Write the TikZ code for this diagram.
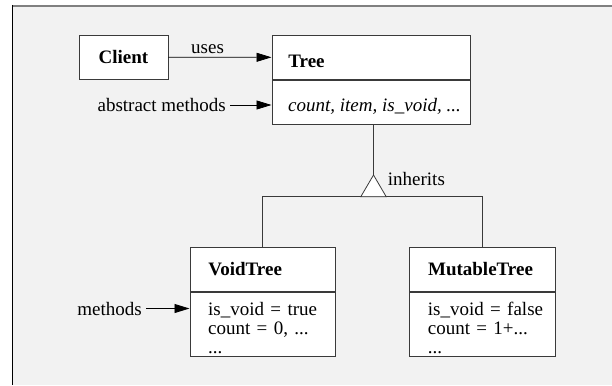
\documentclass[tikz,border=0pt]{standalone}
\usepackage{fontspec}
\setmainfont{Liberation Serif}
\usetikzlibrary{arrows.meta}
\usetikzlibrary{positioning}

\definecolor{panel}{HTML}{F2F2F2}
\definecolor{boxline}{HTML}{3A3A3A}
\newcommand{\umlsize}{\fontsize{19}{19}\selectfont}

\begin{document}
\begin{tikzpicture}[x=1pt,y=-1pt,
        font=\umlsize,
        box/.style={draw=boxline,line width=0.8pt,fill=white,inner sep=0pt,anchor=north west},
        head/.style n args={2}{box,minimum height=44pt,text width=#1,inner xsep=#2,
            align=left,font=\umlsize\bfseries},
        body/.style n args={2}{box,minimum width=#1,minimum height=#2},
        ops/.style={inner sep=0pt,anchor=base west,text width=125pt,align=left},
        link/.style={draw=black,line width=0.8pt,arrows = -{Triangle[length=15pt,width=9pt]}}]

            % \draw [help lines] (0,0) grid (612,385);
            \useasboundingbox (0,0) rectangle (612,385);
            \fill[white] (0,0) rectangle (612,385);
            \fill[panel] (12.5,5.7) rectangle (612,385);
            \draw[gray,line width=2pt] (12,5.7) -- (612,5.7);
            \draw[black,line width=1pt] (12.5,5) -- (12.5,385);

            \path   (123.5,57.2) node (client) [box,anchor=center,minimum width=89pt,
                        minimum height=44.3pt,font=\umlsize\bfseries] {Client}
                    (271.5,35) node (treehead) [head={165pt}{16.5pt},text height=21pt] {Tree}
                    (treehead.south west) node (treebody) [body={198.5pt}{44pt}] {}
                    (189.5,246.7) node (voidhead) [head={108.5pt}{18.5pt}] {VoidTree}
                    (voidhead.south west) node (voidbody) [body={145.5pt}{64.3pt}] {}
                    (409,246.7) node (muthead) [head={108.6pt}{18.7pt}] {MutableTree}
                    (muthead.south west) node (mutbody) [body={146pt}{64.3pt}] {};

            % texts of the method parts
            \node (treeops) [inner sep=0pt,anchor=base west] at ([xshift=16.5pt,yshift=-31.7pt]treebody.north west)
            {\itshape count, item, is\_void, ...};
            \node (voidops) [ops] at ([xshift=18.5pt,yshift=-24.3pt]voidbody.north west)
            {is\_void = true\\ count = 0, ...\\ ...};
            \node (mutops) [ops] at ([xshift=18.7pt,yshift=-24.3pt]mutbody.north west)
            {is\_void = false\\ count = 1+...\\ ...};

            % client uses tree
            \draw[link] (client) -- (treehead) node [pos=0.38,above] (uses) {uses};

            \node (abstr) [anchor=base east,inner sep=4pt] at (230,111.5) {abstract methods};
            \draw[link] (abstr.east) -- (abstr.east -| treebody.west);

            \node (meth) [anchor=base east,inner sep=4pt] at (146,315) {methods};
            \draw[link] (meth.east) -- (meth.east -| voidbody.west);

            % inheritance
            \coordinate (apex) at (373.5,175);
            \coordinate (inh) at (373.5,196.7);
            \draw[boxline,line width=0.8pt] (apex |- treebody.south) -- (apex);
            \draw[boxline,line width=0.8pt] (voidhead.north) |- (inh) -| (muthead.north);
            \draw[boxline,line width=0.8pt,fill=white] (apex) -- ([xshift=12.7pt]inh) -- ([xshift=-12.7pt]inh) -- cycle;
            \node (inhlabel) [anchor=base west,inner sep=0pt] at (387.7,185) {inherits};

\end{tikzpicture}
\end{document}
